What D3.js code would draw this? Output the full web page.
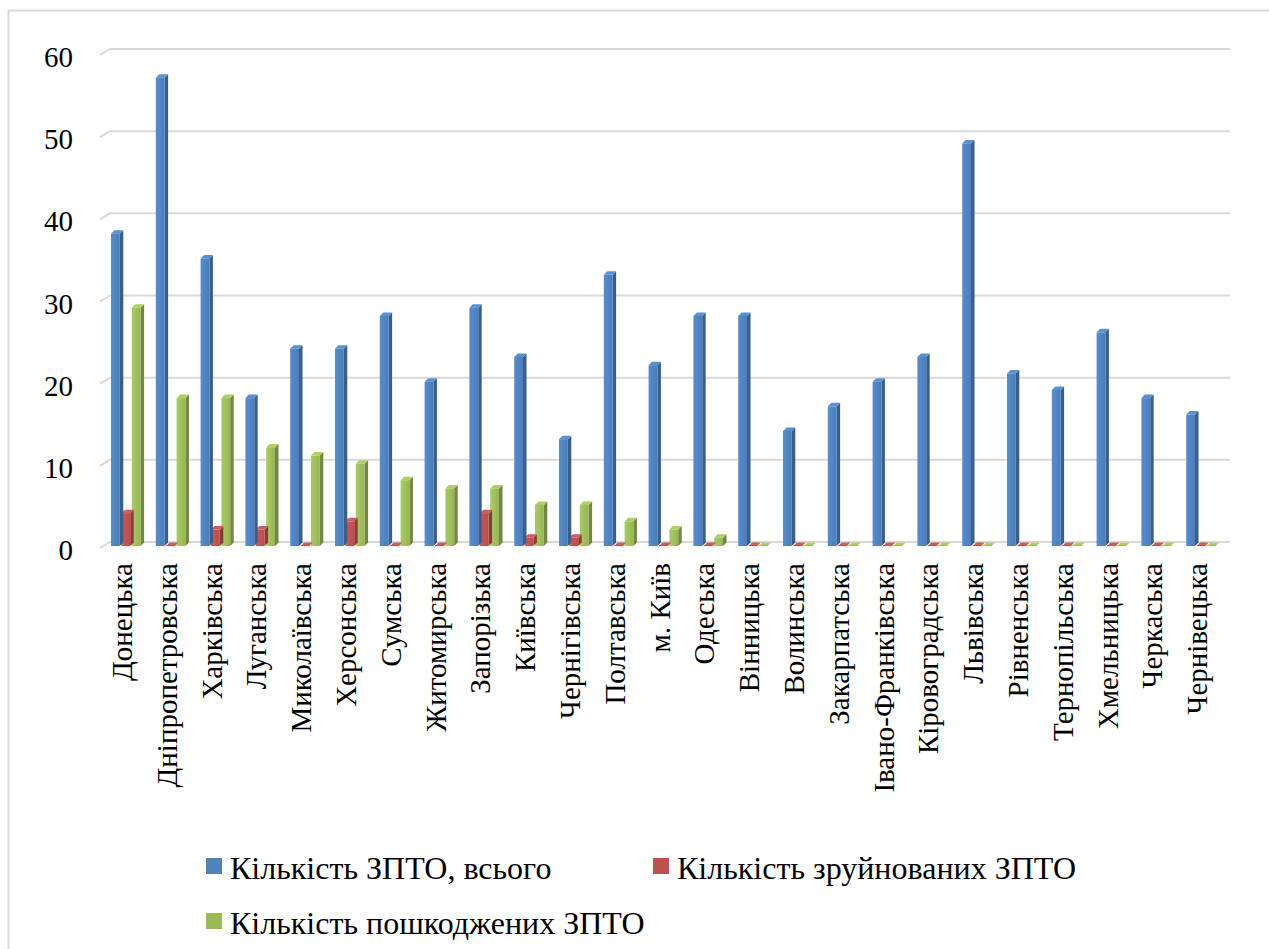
<!DOCTYPE html>
<html><head><meta charset="utf-8"><script src="https://cdn.jsdelivr.net/npm/d3@7"></script></head>
<body style="margin:0">
<svg id="chart" width="1269" height="949"></svg>
<script>
// Regions of Ukraine
const regions = [
  "Донецька", "Дніпропетровська", "Харківська", "Луганська", "Миколаївська",
  "Херсонська", "Сумська", "Житомирська", "Запорізька", "Київська",
  "Чернігівська", "Полтавська", "м. Київ", "Одеська", "Вінницька",
  "Волинська", "Закарпатська", "Івано-Франківська", "Кіровоградська", "Львівська",
  "Рівненська", "Тернопільська", "Хмельницька", "Черкаська", "Чернівецька"
];
const totalZpto     = [38, 57, 35, 18, 24, 24, 28, 20, 29, 23, 13, 33, 22, 28, 28, 14, 17, 20, 23, 49, 21, 19, 26, 18, 16];
const destroyedZpto = [4, 0, 2, 2, 0, 3, 0, 0, 4, 1, 1, 0, 0, 0, 0, 0, 0, 0, 0, 0, 0, 0, 0, 0, 0];
const damagedZpto   = [29, 18, 18, 12, 11, 10, 8, 7, 7, 5, 5, 3, 2, 1, 0, 0, 0, 0, 0, 0, 0, 0, 0, 0, 0];
const yTicks = [0, 10, 20, 30, 40, 50, 60];

const seriesNames = ["Кількість ЗПТО, всього", "Кількість зруйнованих ЗПТО", "Кількість пошкоджених ЗПТО"];
const seriesData = [totalZpto, destroyedZpto, damagedZpto];
const seriesColors = ["#4F81BD", "#C0504D", "#9BBB59"];

const FONT = '"Liberation Serif"';

const svg = d3.select("#chart");

// outer frame (top and left edges)
svg.append("path")
  .attr("d", "M8.5,949 V10.5 H1269")
  .attr("fill", "none").attr("stroke", "#d9d9d9").attr("stroke-width", 2);

const x0 = d3.scaleBand().domain(regions).range([110, 1230]).paddingInner(0).paddingOuter(0);
const yWall = d3.scaleLinear().domain([0, 60]).range([542, 49]);
const yFront = d3.scaleLinear().domain([0, 60]).range([546, 53]);
const depthX = 3.5, depthY = 3.5;

// back wall gridlines with a short perspective edge on the left
const grid = svg.append("g");
yTicks.forEach(t => {
  const y = yWall(t);
  grid.append("path")
    .attr("d", `M100,${y + 6} L110,${y} H1230`)
    .attr("fill", "none").attr("stroke", "#d9d9d9").attr("stroke-width", 2);
});

// y-axis labels
svg.selectAll("text.ytick").data(yTicks).join("text")
  .attr("class", "ytick")
  .attr("x", 73).attr("y", d => yWall(d) + 18)
  .attr("text-anchor", "end")
  .style("font-family", FONT)
  .attr("font-size", 29)
  .text(d => d);

// gradients for bar faces
const defs = svg.append("defs");
seriesColors.forEach((c, i) => {
  const g = defs.append("linearGradient").attr("id", "front" + i)
    .attr("x1", 0).attr("x2", 1).attr("y1", 0).attr("y2", 0);
  g.append("stop").attr("offset", 0).attr("stop-color", d3.color(c).brighter(0.25));
  g.append("stop").attr("offset", 1).attr("stop-color", d3.color(c).darker(0.1));
});

const slot = 10.4, frontW = 8.8;
const bars = svg.append("g");
regions.forEach((r, ci) => {
  // draw right-most series first so the left bar's side face overlaps it
  for (let s = seriesData.length - 1; s >= 0; s--) {
    const v = seriesData[s][ci];
    const xl = x0(r) + 1 + s * slot;
    const xr = xl + frontW;
    const yb = yFront(0);
    const yt = yFront(v);
    const c = seriesColors[s];
    const g = bars.append("g");
    // side face
    g.append("path")
      .attr("d", `M${xr},${yb} L${xr},${yt} L${xr + depthX},${yt - depthY} L${xr + depthX},${yb - depthY} Z`)
      .attr("fill", d3.color(c).darker(0.9));
    // top face
    g.append("path")
      .attr("d", `M${xl},${yt} L${xl + depthX},${yt - depthY} L${xr + depthX},${yt - depthY} L${xr},${yt} Z`)
      .attr("fill", d3.color(c).brighter(0.3));
    // front face
    if (v > 0) {
      g.append("rect")
        .attr("x", xl).attr("y", yt)
        .attr("width", frontW).attr("height", yb - yt)
        .attr("fill", `url(#front${s})`);
    } else {
      g.append("rect")
        .attr("x", xl).attr("y", yb - 1)
        .attr("width", frontW).attr("height", 1)
        .attr("fill", c);
    }
  }
});

// category labels, rotated
svg.selectAll("text.cat").data(regions).join("text")
  .attr("class", "cat")
  .attr("transform", d => `translate(${x0(d) + 22},563) rotate(-90)`)
  .attr("text-anchor", "end")
  .style("font-family", FONT)
  .attr("font-size", 29)
  .text(d => d);

// legend
const legendItems = [
  { x: 206, y: 858 },
  { x: 653, y: 858 },
  { x: 206, y: 913 }
];
legendItems.forEach((p, i) => {
  svg.append("rect")
    .attr("x", p.x).attr("y", p.y).attr("width", 16).attr("height", 16)
    .attr("fill", seriesColors[i]);
  svg.append("text")
    .attr("x", p.x + 24).attr("y", p.y + 21)
    .style("font-family", FONT)
    .attr("font-size", 32)
    .text(seriesNames[i]);
});
</script></body></html>
